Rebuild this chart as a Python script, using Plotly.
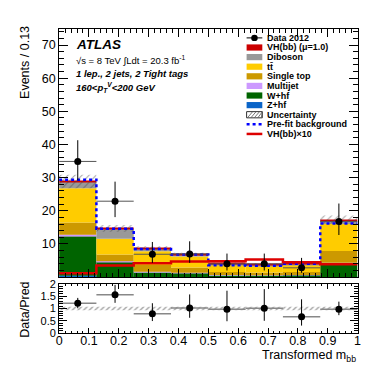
import plotly.graph_objects as go

# ---------------- data ----------------
bin_edges = [0.0, 0.125, 0.25, 0.375, 0.5, 0.625, 0.75, 0.875, 1.0]
zhf        = [0.4, 0.05, 0.02, 0.02, 0.02, 0.02, 0.02, 0.05]
whf        = [11.9, 4.6, 1.4, 1.2, 0.5, 0.5, 0.6, 4.0]
multijet   = [0.5, 0.15, 0.2, 0.1, 0.1, 0.05, 0.05, 0.3]
single_top = [3.7, 2.0, 2.0, 1.6, 0.9, 0.8, 0.9, 3.5]
ttbar      = [10.3, 4.8, 4.2, 3.3, 2.1, 2.0, 2.1, 8.2]
diboson    = [1.9, 2.9, 0.7, 0.4, 0.25, 0.3, 0.25, 0.9]
vh_sig     = [0.15, 0.2, 0.2, 0.25, 0.25, 0.3, 0.3, 0.4]
unc_rel    = [0.07, 0.07, 0.07, 0.07, 0.07, 0.07, 0.07, 0.07]
prefit     = [29.4, 14.6, 8.5, 6.8, 3.6, 3.4, 4.0, 16.2]
vh_x10     = [1.2, 3.5, 4.2, 4.7, 4.8, 5.3, 4.5, 3.9]
data       = [34.9, 22.9, 6.9, 7.0, 4.0, 4.0, 2.8, 16.8]
data_err_up   = [6.4, 5.9, 3.7, 3.8, 3.1, 3.1, 3.0, 5.4]
data_err_down = [5.7, 4.8, 2.6, 2.7, 2.0, 2.0, 1.5, 4.1]

y_ticks_main = [10, 20, 30, 40, 50, 60, 70]
y_ticks_ratio = [0, 0.5, 1, 1.5, 2]
y_ticklabels_ratio = ["0", "0.5", "1", "1.5", "2"]
x_ticks = [0, 0.1, 0.2, 0.3, 0.4, 0.5, 0.6, 0.7, 0.8, 0.9, 1.0]
x_ticklabels = ["0", "0.1", "0.2", "0.3", "0.4", "0.5", "0.6", "0.7", "0.8", "0.9", "1"]

# ---------------- derived ----------------
nb = len(bin_edges) - 1
centers = [(bin_edges[i] + bin_edges[i + 1]) / 2 for i in range(nb)]
widths = [bin_edges[i + 1] - bin_edges[i] for i in range(nb)]
half_w = [w / 2 for w in widths]

stack = [
    ("Z+hf", zhf, "#0a64c8"),
    ("W+hf", whf, "#006400"),
    ("Multijet", multijet, "#cc99ff"),
    ("Single top", single_top, "#cc9900"),
    ("tt", ttbar, "#ffcc00"),
    ("Diboson", diboson, "#999999"),
    ("VH(bb)", vh_sig, "#cc0000"),
]

FONT = "Liberation Sans, Arial, Helvetica, sans-serif"
fig = go.Figure()

base = [0.0] * nb
for name, vals, col in stack:
    fig.add_trace(go.Bar(x=centers, y=vals, base=list(base), width=widths,
                         marker=dict(color=col, line=dict(width=0)),
                         showlegend=False, xaxis="x", yaxis="y", hoverinfo="skip"))
    base = [b + v for b, v in zip(base, vals)]
total = base

unc_abs = [t * u for t, u in zip(total, unc_rel)]
fig.add_trace(go.Bar(x=centers, y=[2 * u for u in unc_abs],
                     base=[t - u for t, u in zip(total, unc_abs)], width=widths,
                     marker=dict(color="rgba(0,0,0,0)", line=dict(width=0),
                                 pattern=dict(shape="/", fgcolor="#444444",
                                              bgcolor="rgba(0,0,0,0)", size=5, solidity=0.2)),
                     showlegend=False, xaxis="x", yaxis="y", hoverinfo="skip"))

step_x = list(bin_edges)
fig.add_trace(go.Scatter(x=step_x, y=prefit + [prefit[-1]], mode="lines", line_shape="hv",
                         line=dict(color="#0000ff", width=2.5, dash="dot"),
                         showlegend=False, xaxis="x", yaxis="y"))
fig.add_trace(go.Scatter(x=step_x, y=vh_x10 + [vh_x10[-1]], mode="lines", line_shape="hv",
                         line=dict(color="#dd0000", width=2.5),
                         showlegend=False, xaxis="x", yaxis="y"))

fig.add_trace(go.Scatter(x=centers, y=data, mode="markers",
                         marker=dict(color="black", size=7),
                         error_y=dict(type="data", array=data_err_up, arrayminus=data_err_down,
                                      symmetric=False, width=0, color="black", thickness=1),
                         error_x=dict(type="data", array=half_w, width=0, color="#555555", thickness=1),
                         showlegend=False, xaxis="x", yaxis="y"))

# ratio panel
fig.add_trace(go.Bar(x=centers, y=[2 * u for u in unc_rel], base=[1 - u for u in unc_rel], width=widths,
                     marker=dict(color="rgba(0,0,0,0)", line=dict(width=0),
                                 pattern=dict(shape="/", fgcolor="#333333",
                                              bgcolor="rgba(0,0,0,0)", size=4, solidity=0.3)),
                     showlegend=False, xaxis="x2", yaxis="y2", hoverinfo="skip"))
ratio = [d / t for d, t in zip(data, total)]
r_up = [e / t for e, t in zip(data_err_up, total)]
r_dn = [e / t for e, t in zip(data_err_down, total)]
fig.add_trace(go.Scatter(x=centers, y=ratio, mode="markers",
                         marker=dict(color="black", size=7),
                         error_y=dict(type="data", array=r_up, arrayminus=r_dn,
                                      symmetric=False, width=0, color="black", thickness=1),
                         error_x=dict(type="data", array=half_w, width=0, color="#888888", thickness=1.5),
                         showlegend=False, xaxis="x2", yaxis="y2"))

W, H = 382, 367
X0, X1 = 49, 353
MAIN_T, MAIN_B = 15, 272
RAT_T, RAT_B = 279, 330
def px(x): return x / W
def py(y): return 1 - y / H

axis_common = dict(showline=True, linecolor="black", linewidth=1, mirror="ticks",
                   ticks="inside", tickcolor="black", showgrid=False, zeroline=False)
tf = dict(family=FONT, size=12.5, color="black")

fig.update_layout(
    width=W, height=H, margin=dict(l=0, r=0, t=0, b=0),
    paper_bgcolor="white", plot_bgcolor="white", barmode="overlay",
    font=dict(family=FONT, color="black"),
    xaxis=dict(domain=[px(X0), px(X1)], range=[0, 1], anchor="y", showticklabels=False,
               tickvals=x_ticks, ticklen=8, tickfont=tf,
               minor=dict(ticks="inside", dtick=0.02, ticklen=4, tickcolor="black", showgrid=False),
               **axis_common),
    yaxis=dict(domain=[py(MAIN_B), py(MAIN_T)], range=[0, 75], anchor="x",
               tickvals=y_ticks_main, ticklen=9, tickfont=tf,
               minor=dict(ticks="inside", dtick=2, ticklen=4.5, tickcolor="black", showgrid=False),
               **axis_common),
    xaxis2=dict(domain=[px(X0), px(X1)], range=[0, 1], anchor="y2",
                tickvals=x_ticks, ticktext=x_ticklabels, ticklen=5, ticklabelstandoff=-4,
                tickfont=tf,
                minor=dict(ticks="inside", dtick=0.02, ticklen=2.5, tickcolor="black", showgrid=False),
                **axis_common),
    yaxis2=dict(domain=[py(RAT_B), py(RAT_T)], range=[0, 2], anchor="x2",
                tickvals=y_ticks_ratio, ticktext=y_ticklabels_ratio, ticklen=8,
                tickfont=dict(family=FONT, size=11, color="black"),
                minor=dict(ticks="inside", dtick=0.1, ticklen=4, tickcolor="black", showgrid=False),
                **axis_common),
)

ann = []
shapes = []
def text(x, y, s, size, xanchor="left", yanchor="middle", angle=0):
    ann.append(dict(x=px(x), y=py(y), xref="paper", yref="paper", text=s, showarrow=False,
                    xanchor=xanchor, yanchor=yanchor, textangle=angle,
                    font=dict(family=FONT, size=size, color="black")))

text(64, 32, "<b><i>ATLAS</i></b>", 13.5)
text(64, 48, "√s = 8 TeV ∫Ldt = 20.3 fb<sup>-1</sup>", 9.5)
text(64, 62, "<b><i>1 lep., 2 jets, 2 Tight tags</i></b>", 9.5)
text(64, 76, "<b><i>160&lt;p<sub>T</sub><sup>V</sup>&lt;200 GeV</i></b>", 9.5)

text(14, 10, "Events / 0.13", 12.5, xanchor="center", yanchor="top", angle=-90)
text(14, 306, "Data/Pred", 12.5, xanchor="center", yanchor="middle", angle=-90)
text(353, 354, "Transformed m<sub>bb</sub>", 12.5, xanchor="right", yanchor="middle")

# manual legend
legend_items = [
    ("Data 2012", "data", None),
    ("VH(bb) (μ=1.0)", "box", "#cc0000"),
    ("Diboson", "box", "#999999"),
    ("tt\u0304", "box", "#ffcc00"),
    ("Single top", "box", "#cc9900"),
    ("Multijet", "box", "#cc99ff"),
    ("W+hf", "box", "#006400"),
    ("Z+hf", "box", "#0a64c8"),
    ("Uncertainty", "hatch", None),
    ("Pre-fit background", "dotline", "#0000ff"),
    ("VH(bb)×10", "line", "#dd0000"),
]
LX0, LX1 = 240, 256
for i, (lab, kind, col) in enumerate(legend_items):
    yc = 24.7 + 9.93 * i
    if kind == "box":
        shapes.append(dict(type="rect", xref="paper", yref="paper", x0=px(LX0), x1=px(LX1),
                           y0=py(yc + 3.2), y1=py(yc - 3.2), fillcolor=col, line=dict(width=0)))
    elif kind == "hatch":
        shapes.append(dict(type="rect", xref="paper", yref="paper", x0=px(LX0), x1=px(LX1),
                           y0=py(yc + 3.2), y1=py(yc - 3.2), fillcolor="white",
                           line=dict(width=1, color="#333333")))
        for k in range(5):
            xs = LX0 + 1 + k * 3.5
            shapes.append(dict(type="line", xref="paper", yref="paper",
                               x0=px(xs), x1=px(min(xs + 5, LX1)), y0=py(yc + 3), y1=py(yc - 3),
                               line=dict(width=0.8, color="#555555")))
    elif kind == "data":
        shapes.append(dict(type="line", xref="paper", yref="paper", x0=px(LX0), x1=px(LX1),
                           y0=py(yc), y1=py(yc), line=dict(width=1, color="black")))
        shapes.append(dict(type="circle", xref="paper", yref="paper", x0=px(248 - 3.3), x1=px(248 + 3.3),
                           y0=py(yc + 3.3), y1=py(yc - 3.3), fillcolor="black", line=dict(width=0)))
    elif kind == "dotline":
        shapes.append(dict(type="line", xref="paper", yref="paper", x0=px(LX0), x1=px(LX1),
                           y0=py(yc), y1=py(yc), line=dict(width=2.5, color=col, dash="dot")))
    elif kind == "line":
        shapes.append(dict(type="line", xref="paper", yref="paper", x0=px(LX0), x1=px(LX1),
                           y0=py(yc), y1=py(yc), line=dict(width=2.5, color=col)))
    text(259, yc, "<b>" + lab + "</b>", 9)

fig.update_layout(annotations=ann, shapes=shapes)
fig.write_html("out.html")
